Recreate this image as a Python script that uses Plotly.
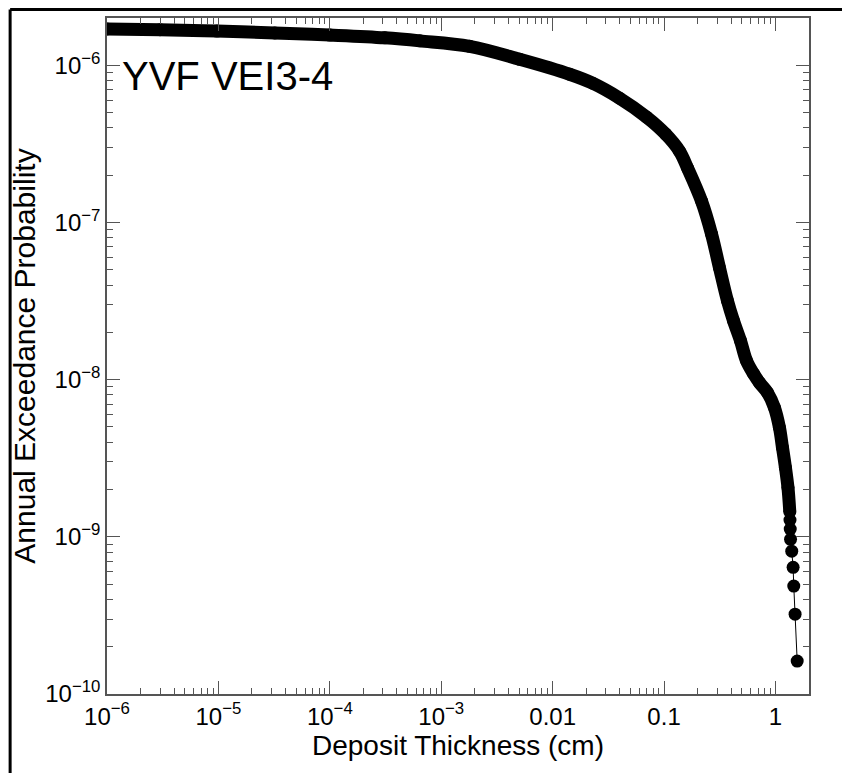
import numpy as np
import plotly.graph_objects as go

# deposit thickness (cm) and annual exceedance probability
thickness = [1.0e-6, 2.99e-6, 9.69e-6, 3.21e-5, 1.0e-4, 3.11e-4, 6.42e-4, 1.80e-3,
             5.06e-3, 0.01421, 0.02284, 0.0399, 0.0697, 0.1032, 0.1377, 0.1625,
             0.2169, 0.2667, 0.3147, 0.3711, 0.4201, 0.4855, 0.5495, 0.635,
             0.7186, 0.848, 0.979, 1.086, 1.156, 1.229, 1.295, 1.345,
             1.350, 1.357, 1.365, 1.40, 1.44, 1.46, 1.50, 1.567]
prob = [1.704e-6, 1.685e-6, 1.651e-6, 1.608e-6, 1.557e-6, 1.495e-6, 1.431e-6, 1.320e-6,
        1.092e-6, 8.77e-7, 7.69e-7, 6.17e-7, 4.68e-7, 3.65e-7, 2.84e-7, 2.22e-7,
        1.369e-7, 8.45e-8, 5.14e-8, 3.17e-8, 2.37e-8, 1.769e-8, 1.320e-8, 1.092e-8,
        9.57e-9, 8.27e-9, 6.64e-9, 4.96e-9, 3.70e-9, 2.76e-9, 2.06e-9, 1.44e-9,
        1.28e-9, 1.12e-9, 9.64e-10, 8.1e-10, 6.4e-10, 4.86e-10, 3.22e-10, 1.62e-10]
n_dense = 32  # points that merge into a solid band

x_tickvals = [1e-6, 1e-5, 1e-4, 1e-3, 0.01, 0.1, 1]
x_ticktext = ["10<sup>−6</sup>", "10<sup>−5</sup>", "10<sup>−4</sup>", "10<sup>−3</sup>", "0.01", "0.1", "1"]
y_tickvals = [1e-10, 1e-9, 1e-8, 1e-7, 1e-6]
y_ticktext = ["10<sup>−10</sup>", "10<sup>−9</sup>", "10<sup>−8</sup>", "10<sup>−7</sup>", "10<sup>−6</sup>"]

x_minor = [m * 10.0 ** e for e in range(-6, 1) for m in range(2, 10) if m * 10.0 ** e < 2]
y_minor = [m * 10.0 ** e for e in range(-10, -5) for m in range(2, 10) if m * 10.0 ** e < 2e-6]

FONT = "Liberation Sans, Arial, sans-serif"
AXIS = "#555555"

fig = go.Figure()
fig.add_scatter(x=thickness[:n_dense], y=prob[:n_dense], mode="lines",
                line=dict(color="black", width=13, shape="spline"),
                hoverinfo="skip", showlegend=False)
fig.add_scatter(x=thickness, y=prob, mode="lines+markers",
                line=dict(color="black", width=1),
                marker=dict(color="black", size=13), showlegend=False)

axis_common = dict(
    type="log", showgrid=False, zeroline=False,
    showline=True, linecolor=AXIS, linewidth=1.5, mirror="ticks",
    ticks="inside", ticklen=13, tickwidth=1.3, tickcolor=AXIS,
    tickfont=dict(family=FONT, size=24, color="black"),
    tickmode="array", ticklabelstandoff=0,
)

fig.update_xaxes(
    **axis_common, range=[-6, np.log10(2)], tickvals=x_tickvals, ticktext=x_ticktext,
    minor=dict(tickmode="array", tickvals=x_minor, ticks="inside", ticklen=6,
               tickwidth=1.3, tickcolor=AXIS),
    title=dict(text="Deposit Thickness (cm)", font=dict(family=FONT, size=28, color="black"), standoff=1),
)
fig.update_yaxes(
    **axis_common, range=[-10, np.log10(2e-6)], tickvals=y_tickvals, ticktext=y_ticktext,
    minor=dict(tickmode="array", tickvals=y_minor, ticks="inside", ticklen=6,
               tickwidth=1.3, tickcolor=AXIS),
    title=dict(text="Annual Exceedance Probability", font=dict(family=FONT, size=30, color="black"), standoff=3),
)

fig.add_annotation(text="YVF VEI3-4", xref="paper", yref="paper", x=0.019, y=0.914,
                   xanchor="left", yanchor="middle", showarrow=False,
                   font=dict(family=FONT, size=40, color="black"))

# outer frame of the figure
for x0, y0, x1, y1 in [(-0.138, -0.2, -0.138, 1.0126), (-0.138, 1.0126, 1.056, 1.0126),
                       (1.056, 1.0126, 1.056, -0.2)]:
    fig.add_shape(type="line", xref="paper", yref="paper", x0=x0, y0=y0, x1=x1, y1=y1,
                  line=dict(color="black", width=3))

fig.update_layout(
    width=842, height=765,
    margin=dict(l=99, r=41, t=10, b=79, autoexpand=False),
    paper_bgcolor="white", plot_bgcolor="white",
    font=dict(family=FONT, color="black"),
)

fig.write_html("out.html")
